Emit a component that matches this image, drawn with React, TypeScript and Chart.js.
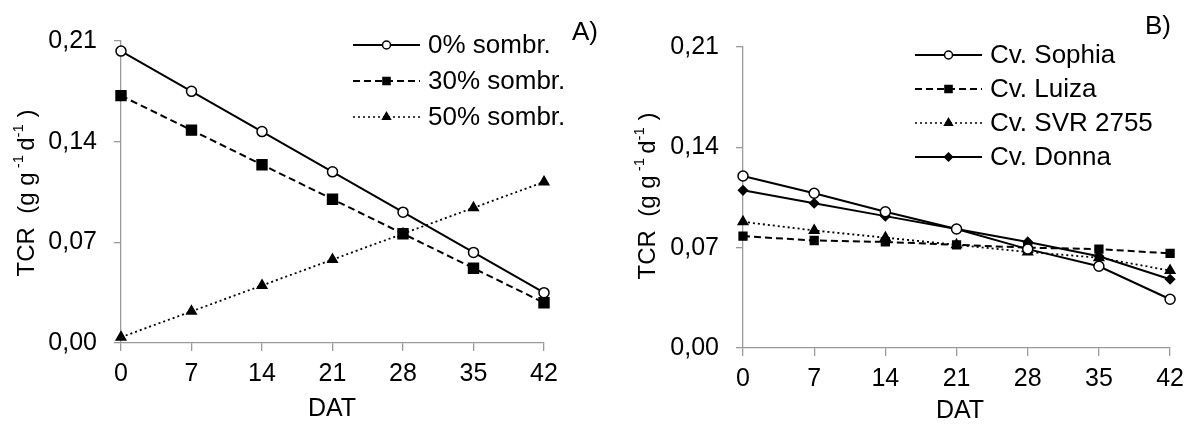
import React, { useEffect, useRef } from "react";
import { Chart, registerables } from "chart.js";

Chart.register(...registerables);

// ---- data ----
const days = [0, 7, 14, 21, 28, 35, 42];
const yTicks = [0, 0.07, 0.14, 0.21];

const shade0 = [0.203, 0.175, 0.147, 0.119, 0.091, 0.063, 0.035];
const shade30 = [0.172, 0.148, 0.124, 0.1, 0.076, 0.052, 0.028];
const shade50 = [0.004, 0.022, 0.04, 0.058, 0.076, 0.094, 0.112];

const sophia = [0.12, 0.108, 0.095, 0.083, 0.069, 0.057, 0.034];
const luiza = [0.078, 0.075, 0.074, 0.072, 0.07, 0.069, 0.066];
const svr2755 = [0.088, 0.082, 0.077, 0.072, 0.067, 0.063, 0.054];
const donna = [0.11, 0.101, 0.092, 0.083, 0.074, 0.064, 0.048];

const labelsA = ["0% sombr.", "30% sombr.", "50% sombr."];
const labelsB = ["Cv. Sophia", "Cv. Luiza", "Cv. SVR 2755", "Cv. Donna"];
const xTitle = "DAT";

const FONT = "'Liberation Sans', Arial, sans-serif";
const AXIS = "#9a9a9a";

type Style = {
  dash: number[];
  point: string;
  radius: number;
  fill: string;
  legendRadius: number;
};

const stylesA: Style[] = [
  { dash: [], point: "circle", radius: 5, fill: "#ffffff", legendRadius: 4 },
  { dash: [7, 4], point: "rect", radius: 7, fill: "#000000", legendRadius: 5 },
  { dash: [2, 3], point: "triangle", radius: 5.5, fill: "#000000", legendRadius: 4.5 },
];
const stylesB: Style[] = [
  { dash: [], point: "circle", radius: 5, fill: "#ffffff", legendRadius: 4 },
  { dash: [7, 4], point: "rect", radius: 5.5, fill: "#000000", legendRadius: 5 },
  { dash: [2, 3], point: "triangle", radius: 5.5, fill: "#000000", legendRadius: 4.5 },
  { dash: [], point: "rectRot", radius: 4.5, fill: "#000000", legendRadius: 4 },
];

function drawMarker(ctx: CanvasRenderingContext2D, style: string, x: number, y: number, r: number, fill: string) {
  ctx.save();
  ctx.setLineDash([]);
  ctx.lineWidth = 1.5;
  ctx.strokeStyle = "#000";
  ctx.fillStyle = fill;
  ctx.beginPath();
  if (style === "circle") {
    ctx.arc(x, y, r, 0, Math.PI * 2);
  } else if (style === "rect") {
    const s = r * Math.SQRT1_2;
    ctx.rect(x - s, y - s, 2 * s, 2 * s);
  } else if (style === "triangle") {
    ctx.moveTo(x, y - r);
    ctx.lineTo(x + r * 0.866, y + r * 0.5);
    ctx.lineTo(x - r * 0.866, y + r * 0.5);
    ctx.closePath();
  } else if (style === "rectRot") {
    ctx.moveTo(x, y - r);
    ctx.lineTo(x + r, y);
    ctx.lineTo(x, y + r);
    ctx.lineTo(x - r, y);
    ctx.closePath();
  }
  ctx.fill();
  ctx.stroke();
  ctx.restore();
}

type Overlay = {
  titleX: number;
  titleY: number;
  legendX0: number;
  legendX1: number;
  legendTextX: number;
  legendY: number;
  legendStep: number;
  labels: string[];
  styles: Style[];
  panel: string;
  panelX: number;
  panelY: number;
  datX: number;
  datY: number;
};

const overlayPlugin = {
  id: "overlay",
  afterDraw(chart: any, _args: any, o: Overlay) {
    const ctx: CanvasRenderingContext2D = chart.ctx;
    ctx.save();
    ctx.fillStyle = "#000";
    ctx.textBaseline = "middle";

    // y axis title with superscripts
    const big = `24px ${FONT}`;
    const small = `15px ${FONT}`;
    const parts: [string, boolean][] = [
      ["TCR  (g g", false],
      [" -1 ", true],
      ["d", false],
      ["-1", true],
      [" )", false],
    ];
    let total = 0;
    for (const [t, sup] of parts) {
      ctx.font = sup ? small : big;
      total += ctx.measureText(t).width;
    }
    ctx.save();
    ctx.translate(o.titleX, o.titleY);
    ctx.rotate(-Math.PI / 2);
    let cx = -total / 2;
    ctx.textAlign = "left";
    for (const [t, sup] of parts) {
      ctx.font = sup ? small : big;
      ctx.fillText(t, cx, sup ? -8 : 0);
      cx += ctx.measureText(t).width;
    }
    ctx.restore();

    // x title
    ctx.font = `25px ${FONT}`;
    ctx.textAlign = "center";
    ctx.fillText(xTitle, o.datX, o.datY);

    // legend
    ctx.font = `26px ${FONT}`;
    o.labels.forEach((label, i) => {
      const st = o.styles[i];
      const y = o.legendY + i * o.legendStep;
      ctx.save();
      ctx.strokeStyle = "#000";
      ctx.lineWidth = st.dash.length && st.dash[0] < 3 ? 1.5 : 2;
      ctx.setLineDash(st.dash);
      ctx.beginPath();
      ctx.moveTo(o.legendX0, y);
      ctx.lineTo(o.legendX1, y);
      ctx.stroke();
      ctx.restore();
      drawMarker(ctx, st.point, (o.legendX0 + o.legendX1) / 2, y, st.legendRadius, st.fill);
      ctx.textAlign = "left";
      ctx.fillStyle = "#000";
      ctx.fillText(label, o.legendTextX, y + 1);
    });

    // panel label
    ctx.font = `26px ${FONT}`;
    ctx.textAlign = "left";
    ctx.fillText(o.panel, o.panelX, o.panelY);
    ctx.restore();
  },
};

function makeConfig(
  series: number[][],
  labels: string[],
  styles: Style[],
  yWidth: number,
  xHeight: number,
  padding: { left: number; right: number; top: number; bottom: number },
  overlay: Overlay
): any {
  return {
    type: "line",
    data: {
      labels: days,
      datasets: series.map((s, i) => ({
        label: labels[i],
        data: s.map((v, j) => ({ x: days[j], y: v })),
        borderColor: "#000",
        borderWidth: styles[i].dash.length && styles[i].dash[0] < 3 ? 1.8 : 2,
        borderDash: styles[i].dash,
        pointStyle: styles[i].point,
        pointRadius: styles[i].radius,
        pointBackgroundColor: styles[i].fill,
        pointBorderColor: "#000",
        pointBorderWidth: 1.5,
        tension: 0,
        clip: false,
        fill: false,
      })),
    },
    options: {
      responsive: false,
      animation: false,
      devicePixelRatio: 1,
      layout: { padding },
      plugins: {
        legend: { display: false },
        tooltip: { enabled: false },
        overlay,
      },
      scales: {
        x: {
          type: "linear",
          min: 0,
          max: 42,
          afterBuildTicks: (scale: any) => {
            scale.ticks = days.map((v) => ({ value: v }));
          },
          afterFit: (scale: any) => {
            scale.height = xHeight;
          },
          ticks: {
            color: "#000",
            font: { family: FONT, size: 25 },
            padding: 8,
            maxRotation: 0,
            autoSkip: false,
          },
          grid: {
            drawOnChartArea: false,
            drawTicks: true,
            tickLength: 8,
            color: AXIS,
            lineWidth: 1.3,
          },
          border: { display: true, color: AXIS, width: 1.3 },
        },
        y: {
          type: "linear",
          min: 0,
          max: 0.21,
          afterBuildTicks: (scale: any) => {
            scale.ticks = yTicks.map((v) => ({ value: v }));
          },
          afterFit: (scale: any) => {
            scale.width = yWidth;
          },
          ticks: {
            color: "#000",
            font: { family: FONT, size: 25 },
            padding: 17,
            callback: (v: any) => Number(v).toFixed(2).replace(".", ","),
          },
          grid: {
            drawOnChartArea: false,
            drawTicks: true,
            tickLength: 7,
            color: AXIS,
            lineWidth: 1.3,
          },
          border: { display: true, color: AXIS, width: 1.3 },
        },
      },
    },
    plugins: [overlayPlugin],
  };
}

function Panel({ config, left, width }: { config: () => any; left: number; width: number }) {
  const ref = useRef<HTMLCanvasElement | null>(null);
  useEffect(() => {
    if (!ref.current) return;
    const chart = new Chart(ref.current, config());
    return () => chart.destroy();
  }, []);
  return (
    <canvas
      ref={ref}
      width={width}
      height={426}
      style={{ position: "absolute", left, top: 0, width, height: 426, display: "block" }}
    />
  );
}

export default function App() {
  const cfgA = () =>
    makeConfig(
      [shade0, shade30, shade50],
      labelsA,
      stylesA,
      121,
      83,
      { left: 0, right: 56, top: 41, bottom: 0 },
      {
        titleX: 27,
        titleY: 193,
        legendX0: 353,
        legendX1: 420,
        legendTextX: 428,
        legendY: 45,
        legendStep: 36,
        labels: labelsA,
        styles: stylesA,
        panel: "A)",
        panelX: 572,
        panelY: 33,
        datX: 332,
        datY: 409,
      }
    );
  const cfgB = () =>
    makeConfig(
      [sophia, luiza, svr2755, donna],
      labelsB,
      stylesB,
      143,
      78,
      { left: 0, right: 15, top: 47, bottom: 0 },
      {
        titleX: 48,
        titleY: 196,
        legendX0: 315,
        legendX1: 382,
        legendTextX: 390,
        legendY: 55,
        legendStep: 34,
        labels: labelsB,
        styles: stylesB,
        panel: "B)",
        panelX: 545,
        panelY: 27,
        datX: 360,
        datY: 411,
      }
    );
  return (
    <div style={{ position: "absolute", left: 0, top: 0, width: 1192, height: 426, background: "#fff" }}>
      <Panel config={cfgA} left={0} width={600} />
      <Panel config={cfgB} left={600} width={592} />
    </div>
  );
}
